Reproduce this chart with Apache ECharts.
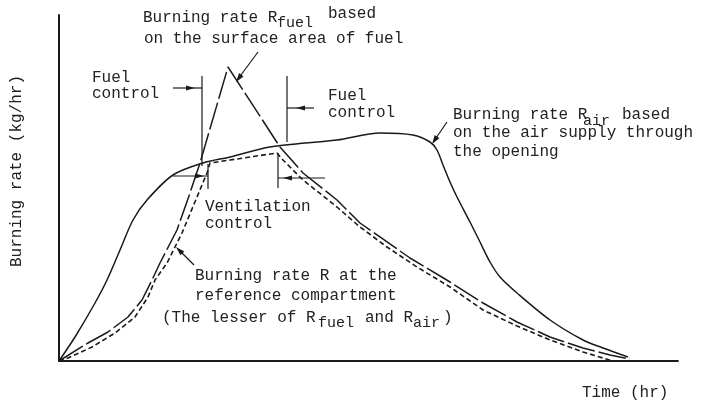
<!DOCTYPE html>
<html>
<head>
<meta charset="utf-8">
<script src="https://cdn.jsdelivr.net/npm/echarts@6/dist/echarts.min.js"></script>
<style>
html,body{margin:0;padding:0;background:#fff;}
#chart{width:702px;height:402px;}
</style>
</head>
<body>
<div id="chart"></div>
<script>
// Schematic curves (arbitrary units: time along x, burning rate along y)
const rAir = [[0,0],[16,24],[36,58],[48,81],[61,111],[74,141],[88,161],[114,186],[144,198],[171,204],[211,214],[278,221],[321,228],[354,226],[371,219],[378,211],[384,196],[391,179],[398,164],[411,139],[421,119],[431,99],[441,84],[458,68],[491,41],[524,21],[544,13],[569,4]];
const rFuel = [[0,0],[29,18],[49,29],[69,44],[83,61],[93,81],[101,98],[118,131],[131,168],[141,198],[169,294],[221,214],[244,188],[278,161],[291,148],[301,138],[351,103],[391,79],[424,58],[458,39],[491,24],[524,13],[551,6],[571,2]];
const rRef = [[0,0],[9,3],[33,14],[56,28],[76,44],[89,64],[96,81],[108,98],[123,128],[138,164],[148,188],[151,198],[171,201],[218,208],[224,201],[244,181],[278,154],[301,134],[328,114],[358,94],[391,74],[424,51],[458,35],[491,21],[524,9],[554,0]];
const xMax = 619, yMax = 346;

const ink = '#1a1a1a';
const FONT = '16px "Liberation Mono", "DejaVu Sans Mono", monospace';
const SUBFONT = '15px "Liberation Mono", "DejaVu Sans Mono", monospace';

function seg(x1,y1,x2,y2,w){
  return {type:'line', silent:true, z:10, shape:{x1:x1,y1:y1,x2:x2,y2:y2}, style:{stroke:ink, lineWidth:w||1.2}};
}
function head(tx,ty,fx,fy,len,wid){
  const dx=tx-fx, dy=ty-fy, d=Math.sqrt(dx*dx+dy*dy);
  const ux=dx/d, uy=dy/d, px=-uy, py=ux;
  const bx=tx-ux*len, by=ty-uy*len;
  return {type:'polygon', silent:true, z:10, shape:{points:[[tx,ty],[bx+px*wid,by+py*wid],[bx-px*wid,by-py*wid]]}, style:{fill:ink}};
}
function txt(s,x,y,font,extra){
  const o = {type:'text', silent:true, z:10, x:x, y:y, style:{text:s, font:font||FONT, fill:'#222', align:'left', verticalAlign:'middle'}};
  if(extra){ for(const k in extra) o[k]=extra[k]; }
  return o;
}

const graphics = [
  // Fuel control (left)
  seg(202,76,202,166), seg(173,88,202,88), head(195,88,180,88,9,2.6),
  // Fuel control (right)
  seg(287,76,287,142), seg(287,108,314,108), head(296,108,310,108,9,2.6),
  // Ventilation control (left)
  seg(173,176,208,176), seg(208,164,208,189), head(204,176,190,176,9,2.6),
  // Ventilation control (right)
  seg(278,153,278,188), seg(278,178,325,178), head(283,178,297,178,9,2.6),
  // pointer arrows
  seg(258,52,238,79), head(236,82,258,52,9,2.8),
  seg(447,122,434,141), head(432,144,447,122,9,2.8),
  seg(194,265,179,250), head(176,247,194,265,9,2.8),
  // texts
  txt('Burning rate R',143,18), txt('fuel',277,23,SUBFONT), txt('based',328,14),
  txt('on the surface area of fuel',144,39),
  txt('Fuel',92,78), txt('control',92,94),
  txt('Fuel',328,96), txt('control',328,113),
  txt('Burning rate R',453,115), txt('air',583,121,SUBFONT), txt('based',622,115),
  txt('on the air supply through',453,133),
  txt('the opening',453,152),
  txt('Ventilation',205,207), txt('control',205,224),
  txt('Burning rate R at the',195,276),
  txt('reference compartment',195,296),
  txt('(The lesser of R',162,318), txt('fuel',318,323,SUBFONT), txt('and R',365,318), txt('air',413,323,SUBFONT), txt(')',443,318),
  txt('Time (hr)',582,393),
  {type:'text', silent:true, z:10, x:17, y:171, rotation:Math.PI/2,
   style:{text:'Burning rate (kg/hr)', font:FONT, fill:'#222', align:'center', verticalAlign:'middle'}}
];

const chart = echarts.init(document.getElementById('chart'), null, {renderer:'canvas'});
chart.setOption({
  animation:false,
  backgroundColor:'#ffffff',
  grid:{left:59, right:24, top:15, bottom:41},
  xAxis:{type:'value', min:0, max:xMax, axisLine:{show:true, lineStyle:{color:ink, width:1.8}}, axisTick:{show:false}, axisLabel:{show:false}, splitLine:{show:false}},
  yAxis:{type:'value', min:0, max:yMax, axisLine:{show:true, lineStyle:{color:ink, width:2}}, axisTick:{show:false}, axisLabel:{show:false}, splitLine:{show:false}},
  series:[
    {name:'R_air', type:'line', data:rAir, smooth:0.3, showSymbol:false, symbol:'none', lineStyle:{color:ink, width:1.5, type:'solid'}},
    {name:'R_fuel', type:'line', data:rFuel, smooth:false, showSymbol:false, symbol:'none', lineStyle:{color:ink, width:1.5, type:[28,4]}},
    {name:'R', type:'line', data:rRef, smooth:false, showSymbol:false, symbol:'none', lineStyle:{color:ink, width:1.6, type:[5,3]}}
  ],
  graphic:graphics
});
</script>
</body>
</html>
